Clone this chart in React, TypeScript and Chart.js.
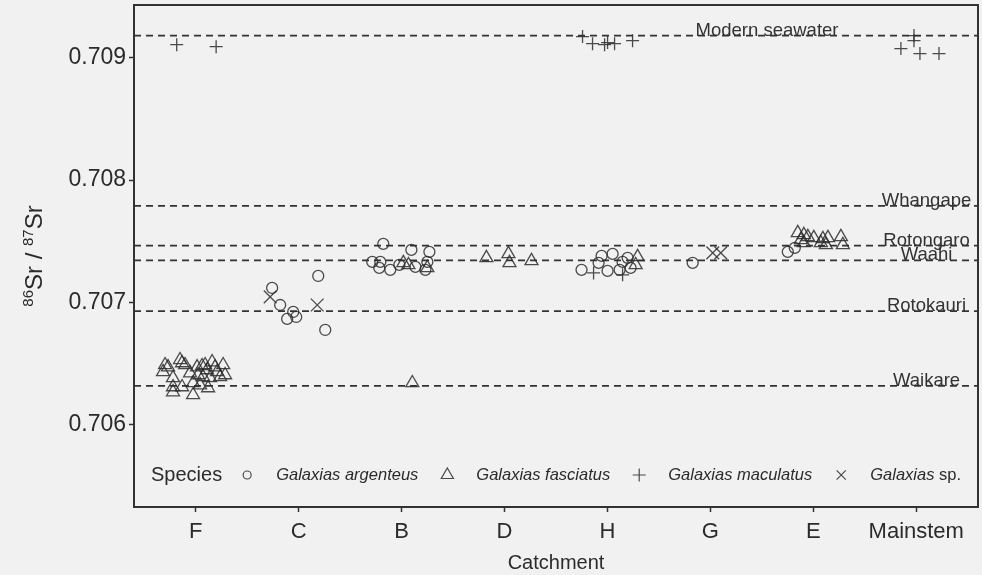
import React, { useEffect, useRef } from 'react';
import { Chart, registerables } from 'chart.js';

Chart.register(...registerables);

// ---------- data ----------
const catchments = ['F', 'C', 'B', 'D', 'H', 'G', 'E', 'Mainstem'];
const yTickValues = [0.706, 0.707, 0.708, 0.709];

const refNames = ['Modern seawater', 'Whangape', 'Rotongaro', 'Waahi', 'Rotokauri', 'Waikare'];
const refValues = [0.70918, 0.70779, 0.707465, 0.707345, 0.70693, 0.70632];

// Galaxias argenteus
const argCatchment = [
  'C', 'C', 'C', 'C', 'C', 'C', 'C',
  'B', 'B', 'B', 'B', 'B', 'B', 'B', 'B', 'B', 'B', 'B',
  'H', 'H', 'H', 'H', 'H', 'H', 'H', 'H', 'H',
  'G',
  'E', 'E',
];
const argJitter = [
  -0.258, -0.18, -0.053, -0.112, -0.024, 0.19, 0.258,
  -0.178, 0.095, 0.27, -0.285, -0.207, -0.217, -0.11, 0.134, 0.25, -0.022, 0.231,
  -0.252, -0.086, -0.057, 0.001, 0.05, 0.118, 0.147, 0.225, 0.196,
  -0.172,
  -0.248, -0.18,
];
const argSr = [
  0.707119, 0.70698, 0.706923, 0.706866, 0.706882, 0.707217, 0.706776,
  0.707479, 0.70743, 0.707414, 0.707332, 0.707332, 0.707283, 0.707267, 0.707291, 0.707332, 0.707307, 0.707267,
  0.707267, 0.707324, 0.707381, 0.707258, 0.707397, 0.707267, 0.707332, 0.707283, 0.707365,
  0.707324,
  0.707414, 0.707446,
];

// Galaxias fasciatus
const fasCatchment = [
  'F', 'F', 'F', 'F', 'F', 'F', 'F', 'F', 'F', 'F', 'F', 'F', 'F', 'F',
  'F', 'F', 'F', 'F', 'F', 'F', 'F', 'F', 'F', 'F', 'F', 'F', 'F', 'F',
  'B', 'B', 'B', 'B',
  'D', 'D', 'D', 'D',
  'H', 'H',
  'E', 'E', 'E', 'E', 'E', 'E', 'E', 'E', 'E', 'E', 'E', 'E',
];
const fasJitter = [
  -0.298, -0.269, -0.153, -0.133, -0.104, 0.013, 0.061, 0.091, 0.159, 0.188, 0.266, 0.11, 0.207, 0.285,
  -0.318, -0.221, -0.055, 0.023, 0.071, 0.139, 0.237, -0.221, -0.221, -0.133, -0.026, -0.026, 0.12, 0.042,
  0.017, 0.066, 0.25, 0.104,
  -0.176, 0.038, 0.048, 0.262,
  0.293, 0.274,
  -0.151, -0.092, -0.053, 0.005, 0.093, 0.142, 0.268, -0.121, 0.073, 0.122, 0.287, -0.092,
];
const fasSr = [
  0.70649, 0.706473, 0.706531, 0.706506, 0.70649, 0.706473, 0.706482, 0.70649, 0.706514, 0.706473, 0.70649, 0.706449, 0.706433, 0.706408,
  0.706433, 0.706384, 0.706424, 0.706408, 0.706392, 0.706384, 0.706392, 0.70631, 0.706269, 0.70631, 0.706343, 0.706245, 0.706302, 0.706326,
  0.707324, 0.707307, 0.707283, 0.706343,
  0.707365, 0.707397, 0.707324, 0.70734,
  0.707373, 0.707307,
  0.707569, 0.707553, 0.707536, 0.707528, 0.70752, 0.707528, 0.707536, 0.707512, 0.707487, 0.707471, 0.707471, 0.707487,
];

// Galaxias maculatus
const macCatchment = [
  'F', 'F',
  'H', 'H', 'H', 'H', 'H', 'H', 'H', 'H',
  'Mainstem', 'Mainstem', 'Mainstem', 'Mainstem', 'Mainstem',
];
const macJitter = [
  -0.185, 0.198,
  -0.135, 0.147, -0.242, -0.145, -0.028, 0.001, 0.069, 0.244,
  -0.149, -0.022, -0.022, 0.036, 0.221,
];
const macSr = [
  0.709106, 0.70909,
  0.707242, 0.707226, 0.709172, 0.709114, 0.709106, 0.709123, 0.709114, 0.709139,
  0.709074, 0.70918, 0.709139, 0.709033, 0.709033,
];

// Galaxias sp.
const spCatchment = ['C', 'C', 'G', 'G'];
const spJitter = [-0.277, 0.18, 0.023, 0.101];
const spSr = [0.707046, 0.70698, 0.707406, 0.707406];

// ---------- styling / layout ----------
const FONT = '"Liberation Sans", Arial, sans-serif';
const INK = '#333333';
const POINT_INK = 'rgba(45,45,45,0.85)';
const refLabelAt = [6.55, 8.1, 8.1, 8.1, 8.1, 8.1];

function toPoints(cat: string[], jit: number[], sr: number[]) {
  return sr.map((v, i) => ({ x: catchments.indexOf(cat[i]) + 1 + jit[i], y: v }));
}

function drawSymbol(ctx: CanvasRenderingContext2D, style: string, x: number, y: number, r: number) {
  ctx.beginPath();
  if (style === 'circle') {
    ctx.arc(x, y, r, 0, Math.PI * 2);
  } else if (style === 'triangle') {
    const w = r * Math.sin((2 * Math.PI) / 3);
    ctx.moveTo(x, y - r);
    ctx.lineTo(x + w, y + r / 2);
    ctx.lineTo(x - w, y + r / 2);
    ctx.closePath();
  } else if (style === 'cross') {
    ctx.moveTo(x - r, y);
    ctx.lineTo(x + r, y);
    ctx.moveTo(x, y - r);
    ctx.lineTo(x, y + r);
  } else {
    const d = r * Math.SQRT1_2;
    ctx.moveTo(x - d, y - d);
    ctx.lineTo(x + d, y + d);
    ctx.moveTo(x - d, y + d);
    ctx.lineTo(x + d, y - d);
  }
  ctx.stroke();
}

const backgroundPlugin = {
  id: 'bg',
  beforeDraw(chart: any) {
    const { ctx, width, height } = chart;
    ctx.save();
    ctx.fillStyle = '#f1f1f1';
    ctx.fillRect(0, 0, width, height);
    ctx.restore();
  },
};

const refLinesPlugin = {
  id: 'refLines',
  beforeDatasetsDraw(chart: any) {
    const { ctx, chartArea, scales } = chart;
    ctx.save();
    ctx.strokeStyle = INK;
    ctx.lineWidth = 1.7;
    ctx.setLineDash([7, 5]);
    refValues.forEach((v) => {
      const y = scales.y.getPixelForValue(v);
      ctx.beginPath();
      ctx.moveTo(chartArea.left, y);
      ctx.lineTo(chartArea.right, y);
      ctx.stroke();
    });
    ctx.setLineDash([]);
    ctx.fillStyle = INK;
    ctx.font = `18.5px ${FONT}`;
    ctx.textAlign = 'center';
    ctx.textBaseline = 'alphabetic';
    refNames.forEach((name, i) => {
      const y = scales.y.getPixelForValue(refValues[i]);
      const x = scales.x.getPixelForValue(refLabelAt[i]);
      ctx.fillText(name, x, y);
    });
    ctx.restore();
  },
};

const framePlugin = {
  id: 'frame',
  afterDraw(chart: any) {
    const { ctx, chartArea } = chart;
    ctx.save();
    ctx.strokeStyle = INK;
    ctx.lineWidth = 2;
    ctx.strokeRect(chartArea.left, chartArea.top, chartArea.right - chartArea.left, chartArea.bottom - chartArea.top);

    // y-axis title with superscripts
    ctx.translate(34, (chartArea.top + chartArea.bottom) / 2);
    ctx.rotate(-Math.PI / 2);
    ctx.fillStyle = '#2b2b2b';
    const big = `24px ${FONT}`;
    const small = `15px ${FONT}`;
    const parts: [string, string, number][] = [
      ['86', small, -9],
      ['Sr / ', big, 0],
      ['87', small, -9],
      ['Sr', big, 0],
    ];
    let total = 0;
    parts.forEach(([t, f]) => {
      ctx.font = f;
      total += ctx.measureText(t).width;
    });
    let x = -total / 2;
    ctx.textBaseline = 'alphabetic';
    ctx.textAlign = 'left';
    parts.forEach(([t, f, dy]) => {
      ctx.font = f;
      ctx.fillText(t, x, 8 + dy);
      x += ctx.measureText(t).width;
    });
    ctx.restore();
  },
};

const legendItems = [
  { style: 'circle', italic: 'Galaxias argenteus', plain: '', r: 4 },
  { style: 'triangle', italic: 'Galaxias fasciatus', plain: '', r: 7 },
  { style: 'cross', italic: 'Galaxias maculatus', plain: '', r: 6.5 },
  { style: 'crossRot', italic: 'Galaxias', plain: ' sp.', r: 6.5 },
];

const legendPlugin = {
  id: 'speciesLegend',
  afterDatasetsDraw(chart: any) {
    const { ctx, chartArea } = chart;
    ctx.save();
    const titleFont = `20px ${FONT}`;
    const itFont = `italic 16.5px ${FONT}`;
    const plFont = `16.5px ${FONT}`;
    const gapTitle = 25;
    const symToText = 29;
    const textToSym = 29;
    ctx.font = titleFont;
    const titleW = ctx.measureText('Species').width;
    const widths = legendItems.map((it) => {
      ctx.font = itFont;
      let w = ctx.measureText(it.italic).width;
      ctx.font = plFont;
      if (it.plain) w += ctx.measureText(it.plain).width;
      return w;
    });
    let total = titleW + gapTitle;
    widths.forEach((w, i) => {
      total += symToText + w + (i < widths.length - 1 ? textToSym : 0);
    });
    const cy = 475;
    let x = (chartArea.left + chartArea.right) / 2 - total / 2;
    ctx.fillStyle = '#2b2b2b';
    ctx.textBaseline = 'middle';
    ctx.textAlign = 'left';
    ctx.font = titleFont;
    ctx.fillText('Species', x, cy);
    x += titleW + gapTitle;
    ctx.strokeStyle = POINT_INK;
    ctx.lineWidth = 1.2;
    legendItems.forEach((it, i) => {
      drawSymbol(ctx, it.style, x, cy, it.r);
      x += symToText;
      ctx.font = itFont;
      ctx.fillText(it.italic, x, cy);
      const w = ctx.measureText(it.italic).width;
      if (it.plain) {
        ctx.font = plFont;
        ctx.fillText(it.plain, x + w, cy);
      }
      x += widths[i] + textToSym;
    });
    ctx.restore();
  },
};

function zeroPadding(scale: any) {
  scale.paddingTop = 0;
  scale.paddingBottom = 0;
  scale.paddingLeft = 0;
  scale.paddingRight = 0;
}

export default function App() {
  const canvasRef = useRef<HTMLCanvasElement | null>(null);

  useEffect(() => {
    document.body.style.margin = '0';
    const canvas = canvasRef.current;
    if (!canvas) return;

    const common = {
      borderColor: POINT_INK,
      backgroundColor: 'rgba(0,0,0,0)',
      pointBorderWidth: 1.3,
      showLine: false,
    };

    const chart = new Chart(canvas, {
      type: 'scatter',
      data: {
        datasets: [
          { ...common, label: 'Galaxias argenteus', data: toPoints(argCatchment, argJitter, argSr), pointStyle: 'circle', pointRadius: 5.5 },
          { ...common, label: 'Galaxias fasciatus', data: toPoints(fasCatchment, fasJitter, fasSr), pointStyle: 'triangle', pointRadius: 7.5 },
          { ...common, label: 'Galaxias maculatus', data: toPoints(macCatchment, macJitter, macSr), pointStyle: 'cross', pointRadius: 6.5 },
          { ...common, label: 'Galaxias sp.', data: toPoints(spCatchment, spJitter, spSr), pointStyle: 'crossRot', pointRadius: 9 },
        ],
      },
      options: {
        animation: false,
        responsive: false,
        devicePixelRatio: 1,
        layout: { autoPadding: false, padding: { left: 0, right: 4, top: 5, bottom: 0 } },
        plugins: {
          legend: { display: false },
          tooltip: { enabled: false },
        },
        scales: {
          x: {
            type: 'linear',
            min: 0.4,
            max: 8.6,
            afterBuildTicks: (scale: any) => {
              scale.ticks = catchments.map((_, i) => ({ value: i + 1 }));
            },
            afterFit: (scale: any) => {
              scale.height = 68;
              zeroPadding(scale);
            },
            ticks: {
              autoSkip: false,
              maxRotation: 0,
              padding: 7,
              color: '#2b2b2b',
              font: { family: FONT, size: 22 },
              callback: (v: any) => {
                const i = Math.round(Number(v)) - 1;
                return catchments[i] ?? '';
              },
            },
            grid: {
              display: true,
              drawOnChartArea: false,
              drawTicks: true,
              tickLength: 5,
              tickColor: INK,
              tickWidth: 1.5,
            },
            border: { display: false },
            title: {
              display: true,
              text: 'Catchment',
              color: '#2b2b2b',
              font: { family: FONT, size: 20 },
              padding: { top: 0, bottom: 0 },
            },
          },
          y: {
            type: 'linear',
            min: 0.70533,
            max: 0.70943,
            afterBuildTicks: (scale: any) => {
              scale.ticks = yTickValues.map((v) => ({ value: v }));
            },
            afterFit: (scale: any) => {
              scale.width = 134;
              zeroPadding(scale);
            },
            ticks: {
              padding: 3,
              color: '#2b2b2b',
              font: { family: FONT, size: 23 },
              callback: (v: any) => Number(v).toFixed(3),
            },
            grid: {
              display: true,
              drawOnChartArea: false,
              drawTicks: true,
              tickLength: 5,
              tickColor: INK,
              tickWidth: 1.5,
            },
            border: { display: false },
          },
        },
      } as any,
      plugins: [backgroundPlugin, refLinesPlugin, legendPlugin, framePlugin],
    });

    return () => chart.destroy();
  }, []);

  return (
    <div style={{ position: 'relative', width: 982, height: 575 }}>
      <canvas ref={canvasRef} width={982} height={575} style={{ display: 'block', width: 982, height: 575 }} />
    </div>
  );
}
